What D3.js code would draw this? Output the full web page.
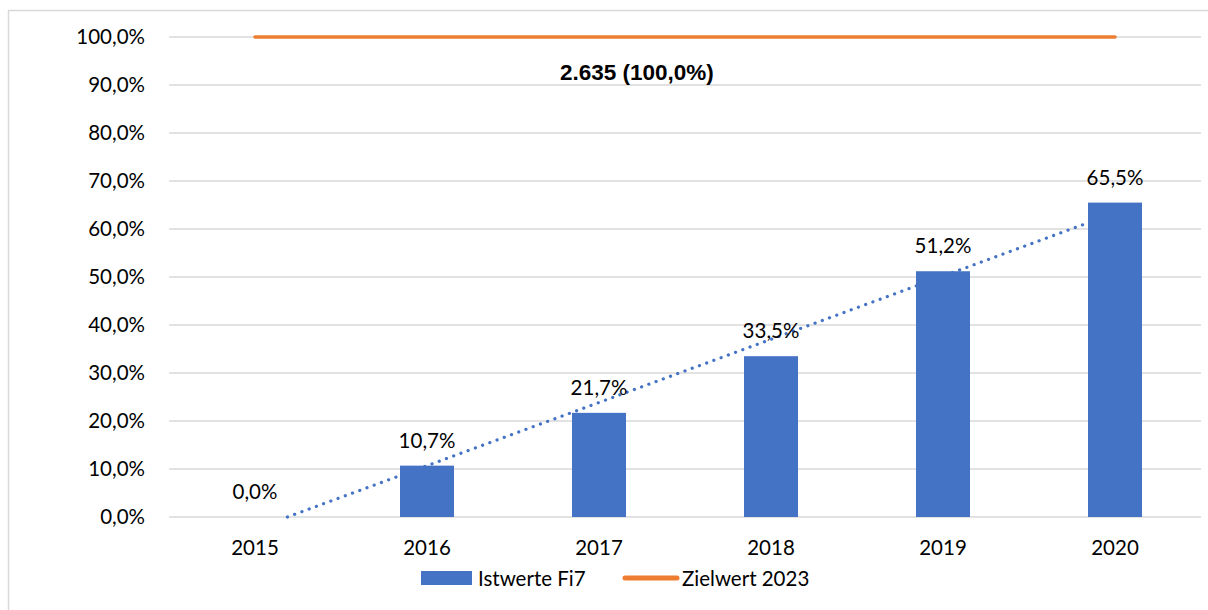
<!DOCTYPE html>
<html>
<head>
<meta charset="utf-8">
<script src="https://cdn.jsdelivr.net/npm/d3@7"></script>
<style>
  body { margin: 0; background: #fff; }
  svg text { font-family: Lato, "Open Sans", sans-serif; fill: #000; }
</style>
</head>
<body>
<div id="chart"></div>
<script>
// data
var years = ["2015", "2016", "2017", "2018", "2019", "2020"];
var istwerte = [0.0, 10.7, 21.7, 33.5, 51.2, 65.5];
var zielwert = [100, 100, 100, 100, 100, 100];
var zielLabel = "2.635 (100,0%)";
var yTicks = [0, 10, 20, 30, 40, 50, 60, 70, 80, 90, 100];
var legendNames = ["Istwerte Fi7", "Zielwert 2023"];

var W = 1208, H = 610;
var margin = { top: 37, right: 7, bottom: 93, left: 169 };
var width = W - margin.left - margin.right,
    height = H - margin.top - margin.bottom;
var fs = "20.5px";

var fmt = function(v) { return v.toFixed(1).replace(".", ",") + "%"; };

var svg = d3.select("#chart").append("svg")
    .attr("width", W).attr("height", H);

// outer frame (only top and left visible in the crop)
svg.append("path")
    .attr("d", "M8.5," + H + "V10.5H" + W)
    .attr("fill", "none").attr("stroke", "#d9d9d9").attr("stroke-width", 1.5);

var g = svg.append("g")
    .attr("transform", "translate(" + margin.left + "," + margin.top + ")");

var x = d3.scaleBand().domain(years).range([0, width]).paddingInner(0).paddingOuter(0);
var y = d3.scaleLinear().domain([0, 100]).range([height, 0]);

// gridlines
g.append("g").selectAll("line").data(yTicks).join("line")
    .attr("x1", 0).attr("x2", width)
    .attr("y1", function(d) { return y(d); }).attr("y2", function(d) { return y(d); })
    .attr("stroke", "#d9d9d9").attr("stroke-width", 1.3);

// y axis labels
var yAxis = d3.axisLeft(y).tickValues(yTicks).tickFormat(fmt).tickSize(0).tickPadding(24);
g.append("g").call(yAxis)
    .call(function(a) { a.select(".domain").remove(); })
    .selectAll("text").style("font-size", fs).attr("fill", "#000");

// x axis labels
var xAxis = d3.axisBottom(x).tickSize(0).tickPadding(23);
g.append("g").attr("transform", "translate(0," + height + ")").call(xAxis)
    .call(function(a) { a.select(".domain").remove(); })
    .selectAll("text").style("font-size", fs).attr("fill", "#000");

// linear trendline (least squares over the bar values), clipped at 0
var n = istwerte.length;
var mx = d3.mean(d3.range(n)), my = d3.mean(istwerte);
var sxy = d3.sum(istwerte, function(v, i) { return (i - mx) * (v - my); });
var sxx = d3.sum(d3.range(n), function(i) { return (i - mx) * (i - mx); });
var slope = sxy / sxx, icpt = my - slope * mx;
var x0 = Math.max(0, -icpt / slope);
var xi = d3.scaleLinear().domain([0, n - 1])
    .range([x(years[0]) + x.bandwidth() / 2, x(years[n - 1]) + x.bandwidth() / 2]);
g.append("line")
    .attr("x1", xi(x0)).attr("y1", y(icpt + slope * x0))
    .attr("x2", xi(n - 1)).attr("y2", y(icpt + slope * (n - 1)))
    .attr("stroke", "#4472c4").attr("stroke-width", 3.2)
    .attr("stroke-linecap", "round").attr("stroke-dasharray", "0.1 7.6");

// bars
var barW = 54;
g.append("g").selectAll("rect").data(istwerte).join("rect")
    .attr("x", function(d, i) { return x(years[i]) + x.bandwidth() / 2 - barW / 2; })
    .attr("width", barW)
    .attr("y", function(d) { return y(d); })
    .attr("height", function(d) { return height - y(d); })
    .attr("fill", "#4472c4");

// bar labels
g.append("g").selectAll("text").data(istwerte).join("text")
    .attr("x", function(d, i) { return x(years[i]) + x.bandwidth() / 2; })
    .attr("y", function(d) { return y(d) - 18; })
    .attr("text-anchor", "middle")
    .style("font-size", fs)
    .text(fmt);

// target line
var line = d3.line()
    .x(function(d, i) { return x(years[i]) + x.bandwidth() / 2; })
    .y(function(d) { return y(d); });
g.append("path").datum(zielwert)
    .attr("d", line)
    .attr("fill", "none").attr("stroke", "#ed7d31").attr("stroke-width", 3.5)
    .attr("stroke-linecap", "round");

g.append("text")
    .attr("x", x("2017") + x.bandwidth() * 0.72)
    .attr("y", y(100) + 43)
    .attr("text-anchor", "middle")
    .style("font-family", "'Liberation Sans', Arial, sans-serif")
    .style("font-weight", "bold").style("font-size", "22.5px")
    .text(zielLabel);

// legend
var leg = svg.append("g").attr("transform", "translate(421,578)");
leg.append("rect").attr("x", 0).attr("y", -7).attr("width", 51).attr("height", 14).attr("fill", "#4472c4");
leg.append("text").attr("x", 57).attr("y", 7.5).style("font-size", fs).text(legendNames[0]);
leg.append("line").attr("x1", 204).attr("x2", 256).attr("y1", 0).attr("y2", 0)
    .attr("stroke", "#ed7d31").attr("stroke-width", 5).attr("stroke-linecap", "round");
leg.append("text").attr("x", 261).attr("y", 7.5).style("font-size", fs).text(legendNames[1]);
</script>
</body>
</html>
